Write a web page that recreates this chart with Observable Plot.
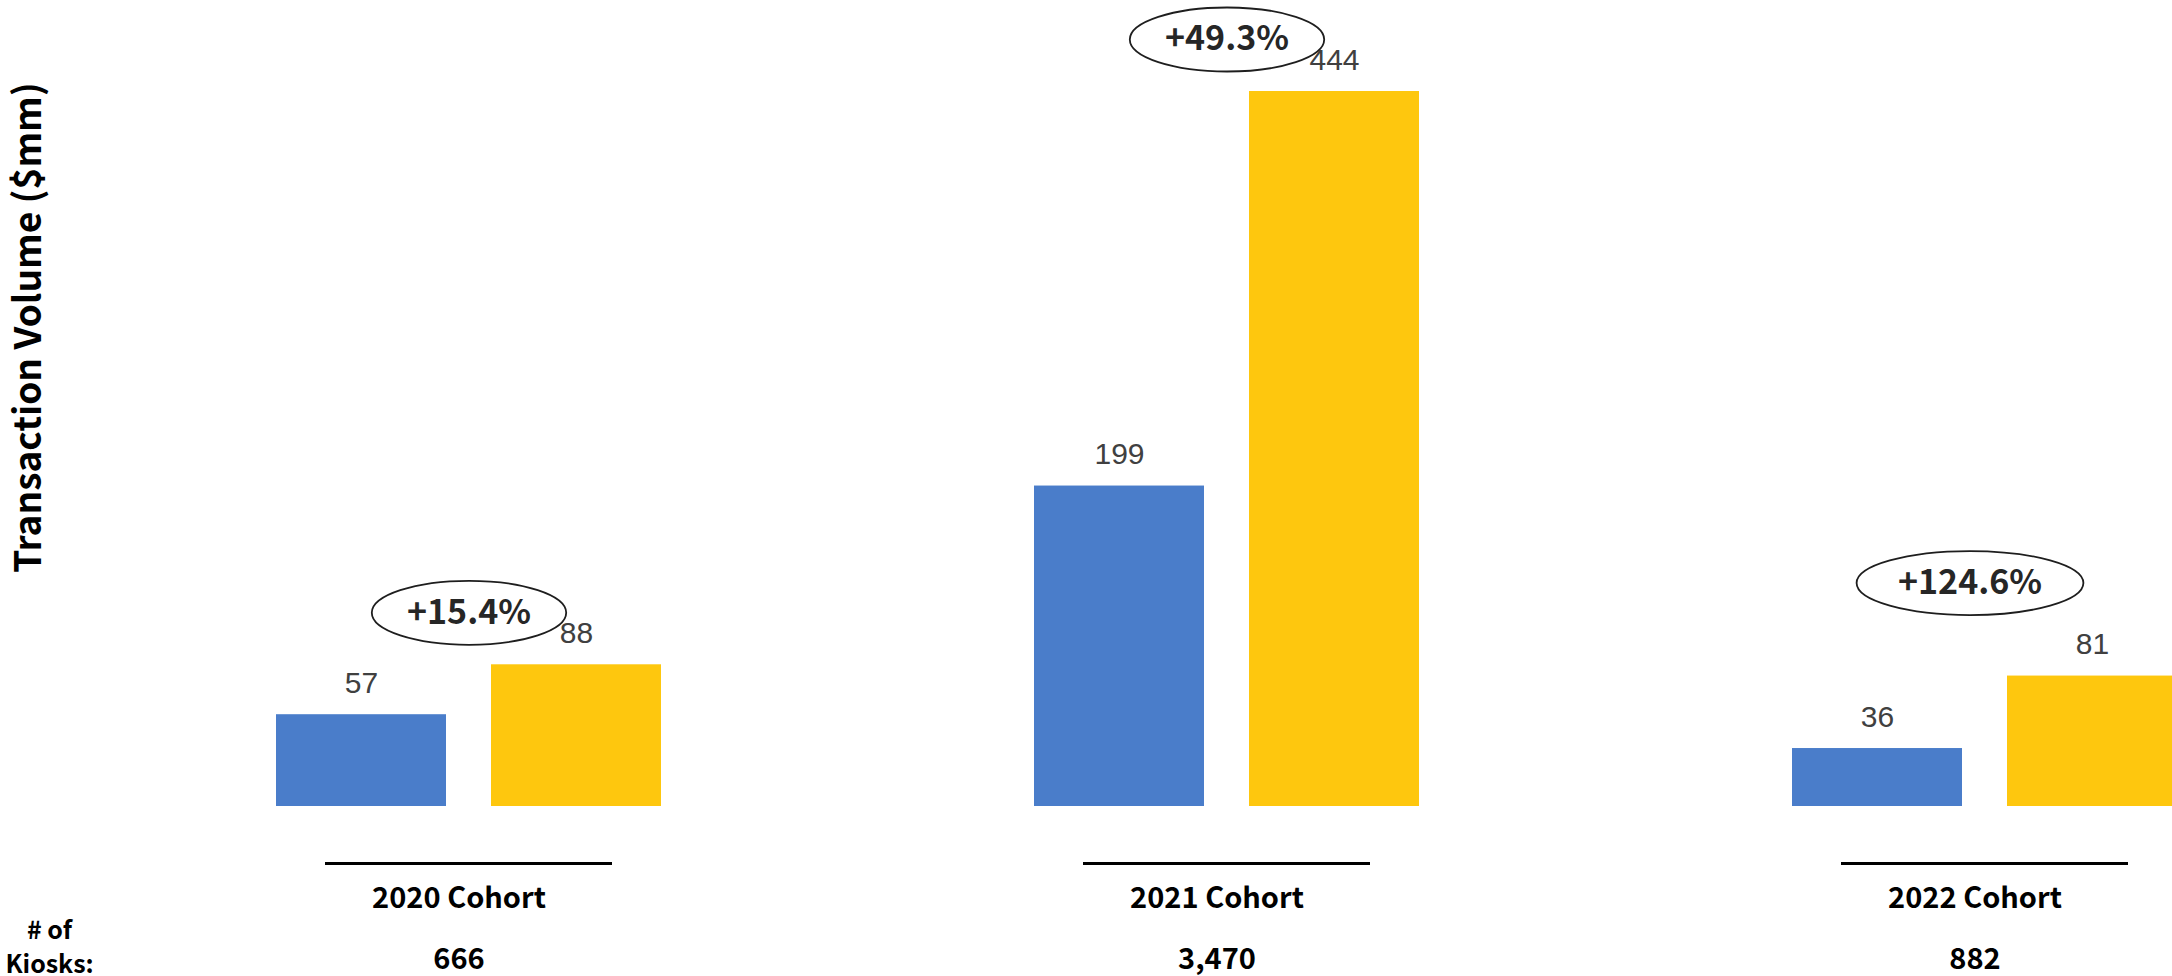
<!DOCTYPE html>
<html>
<head>
<meta charset="utf-8">
<script src="https://cdn.jsdelivr.net/npm/d3@7"></script>
<script src="https://cdn.jsdelivr.net/npm/@observablehq/plot@0.6"></script>
<style>
  html, body { margin: 0; padding: 0; background: #fff; overflow: hidden; }
  #chart svg { max-width: none !important; display: block; }
</style>
</head>
<body>
<div id="chart"></div>
<script>
// ---- data ----
const cohorts = ["2020 Cohort", "2021 Cohort", "2022 Cohort"];
const series = ["Period 1", "Period 2"];
const seriesColors = ["#4A7DCA", "#FEC70E"];
const valuesPeriod1 = [57, 199, 36];
const valuesPeriod2 = [88, 444, 81];
const growthLabels = ["+15.4%", "+49.3%", "+124.6%"];
const kioskCounts = ["666", "3,470", "882"];
const yTitle = "Transaction Volume ($mm)";
const kioskTitle = "# of\nKiosks:";

// ---- tables built from the arrays ----
const bars = cohorts.flatMap((c, i) => [
  {cohort: c, series: series[0], value: valuesPeriod1[i]},
  {cohort: c, series: series[1], value: valuesPeriod2[i]}
]);
const rows = cohorts.map((c, i) => ({
  cohort: c, top: valuesPeriod2[i], growth: growthLabels[i], kiosks: kioskCounts[i]
}));

// ellipse symbol (rx from r, fixed ry)
const ellipse = {
  draw(ctx, size) {
    const rx = Math.sqrt(size / Math.PI), ry = 32, k = 0.5523;
    ctx.moveTo(-rx, 0);
    ctx.bezierCurveTo(-rx, -ry * k, -rx * k, -ry, 0, -ry);
    ctx.bezierCurveTo(rx * k, -ry, rx, -ry * k, rx, 0);
    ctx.bezierCurveTo(rx, ry * k, rx * k, ry, 0, ry);
    ctx.bezierCurveTo(-rx * k, ry, -rx, ry * k, -rx, 0);
    ctx.closePath();
  }
};

const cjk = "'Noto Sans CJK KR', 'Open Sans', sans-serif";
const arial = "'Liberation Sans', Arial, sans-serif";

const annoMain = rows.filter(d => d.cohort !== cohorts[2]);
const annoLast = rows.filter(d => d.cohort === cohorts[2]);

const annoMarks = (data, dx, dy) => [
  Plot.dot(data, {fx: "cohort", y: "top", r: d => d.growth.length * 16.2, symbol: ellipse,
    stroke: "#1e1e1e", strokeWidth: 1.8, fill: "white", fillOpacity: 0, dx, dy}),
  Plot.text(data, {fx: "cohort", y: "top", text: "growth", dx, dy,
    fontFamily: cjk, fontWeight: "bold", fontSize: 34, fill: "#262626"})
];

const chart = Plot.plot({
  width: 2180,
  height: 976,
  marginLeft: 274,
  marginRight: 1,
  marginTop: 91,
  marginBottom: 170,
  style: {maxWidth: "none", background: "white", overflow: "visible"},
  fx: {domain: cohorts, paddingInner: 0.49, paddingOuter: 0, axis: null, label: null},
  x: {domain: series, paddingInner: 0.2083, paddingOuter: 0, axis: null, label: null},
  y: {domain: [0, d3.max(valuesPeriod2)], axis: null, label: null},
  r: {type: "identity"},
  color: {domain: series, range: seriesColors},
  marks: [
    Plot.barY(bars, {fx: "cohort", x: "series", y: "value", fill: "series"}),
    Plot.text(bars, {fx: "cohort", x: "series", y: "value", text: d => String(d.value),
      lineAnchor: "bottom", dy: -22, fontFamily: arial, fontSize: 30, fill: "#404040"}),
    ...annoMarks(annoMain, 0, -52),
    ...annoMarks(annoLast, -15, -93),
    Plot.ruleY(rows, {fx: "cohort", y: () => 0, dy: 57, insetLeft: 50, insetRight: 50,
      stroke: "black", strokeWidth: 3}),
    Plot.text(rows, {fx: "cohort", text: "cohort", frameAnchor: "bottom", lineAnchor: "bottom",
      dy: 101, dx: -10, fontFamily: cjk, fontWeight: "bold", fontSize: 29, fill: "black"}),
    Plot.text(rows, {fx: "cohort", text: "kiosks", frameAnchor: "bottom", lineAnchor: "bottom",
      dy: 162, dx: -10, fontFamily: cjk, fontWeight: "bold", fontSize: 29, fill: "black"}),
    Plot.text([kioskTitle], {fx: [cohorts[0]], text: d => d, frameAnchor: "bottom-left",
      textAnchor: "middle", lineAnchor: "bottom", lineHeight: 1.35, dx: -226, dy: 166,
      fontFamily: cjk, fontWeight: "bold", fontSize: 25, fill: "black"}),
    Plot.text([yTitle], {fx: [cohorts[0]], text: d => d, frameAnchor: "bottom-left",
      textAnchor: "middle", rotate: -90, dx: -235, dy: -479, fontFamily: cjk,
      fontWeight: "bold", fontSize: 37, fill: "black"})
  ]
});
document.getElementById("chart").appendChild(chart);
</script>
</body>
</html>
